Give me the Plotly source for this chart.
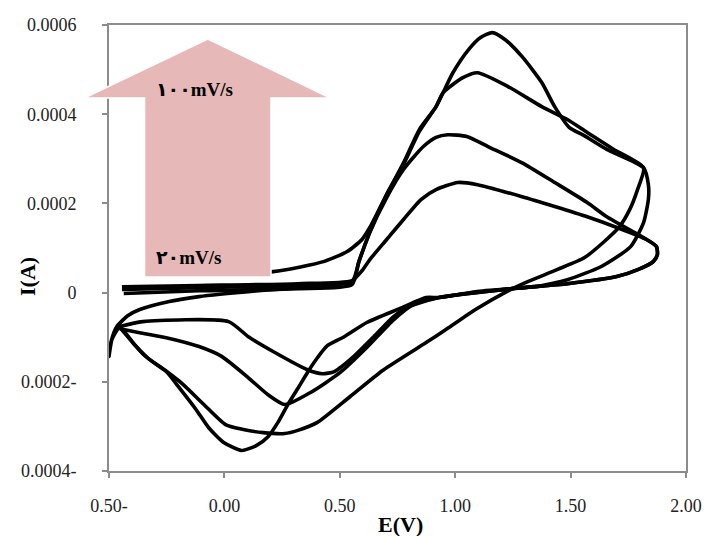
import plotly.graph_objects as go

# ---- data (E in V, I in A) ----
E_20 = [-0.444,-0.110,0.318,0.553,0.596,0.630,0.703,0.776,0.853,0.917,1.011,1.097,1.290,1.431,1.572,1.700,1.829,
        1.872,1.876,1.859,1.794,1.700,1.486,1.247,0.930,0.801,0.733,0.647,0.561,0.476,0.424,0.360,0.211,0.104,0.018,-0.354,-0.453]
I_20 = [1.3e-5,1.6e-5,2.0e-5,2.7e-5,4.9e-5,7.4e-5,1.19e-4,1.64e-4,2.09e-4,2.31e-4,2.47e-4,2.42e-4,2.15e-4,1.93e-4,1.70e-4,1.46e-4,1.19e-4,
        1.03e-4,8.5e-5,7.0e-5,5.2e-5,3.6e-5,2.0e-5,9e-6,-1.1e-5,-3.1e-5,-5.4e-5,-9.9e-5,-1.43e-4,-1.77e-4,-1.82e-4,-1.73e-4,-1.32e-4,-9.9e-5,-6.5e-5,-6.5e-5,-7.6e-5]

E_40 = [-0.444,-0.110,0.318,0.553,0.583,0.630,0.703,0.776,0.861,0.917,0.968,
        1.050,1.144,1.290,1.431,1.572,1.657,1.829,
        1.872,1.876,1.859,1.794,1.700,1.486,1.247,0.930,0.818,
        0.733,0.617,0.502,0.373,0.262,0.189,0.104,-0.012,-0.110,-0.252,-0.367,-0.453]
I_40 = [7e-6,1.1e-5,1.6e-5,2.5e-5,7.0e-5,1.35e-4,2.13e-4,2.76e-4,3.27e-4,3.48e-4,3.54e-4,
        3.50e-4,3.27e-4,2.91e-4,2.47e-4,2.02e-4,1.70e-4,1.19e-4,
        1.03e-4,8.5e-5,7.0e-5,5.2e-5,3.6e-5,2.0e-5,9e-6,-1.1e-5,-2.7e-5,
        -6.1e-5,-1.23e-4,-1.79e-4,-2.24e-4,-2.51e-4,-2.29e-4,-1.91e-4,-1.43e-4,-1.21e-4,-1.01e-4,-9.0e-5,-8.1e-5]

E_60 = [-0.436,-0.110,0.318,0.553,0.583,0.630,0.703,0.776,0.844,0.917,0.947,1.033,1.097,
        1.229,1.375,1.486,1.572,1.687,1.816,
        1.790,1.756,1.709,1.645,1.559,1.444,1.302,1.229,1.088,0.960,0.874,0.690,0.545,0.403,0.318,0.262,0.168,0.082,0.005,-0.089,-0.183,-0.260,-0.346,-0.453]
I_60 = [-2e-6,4e-6,9e-6,1.8e-5,7.0e-5,1.35e-4,2.20e-4,2.87e-4,3.61e-4,4.17e-4,4.48e-4,4.82e-4,4.93e-4,
        4.62e-4,4.17e-4,3.88e-4,3.59e-4,3.21e-4,2.80e-4,
        2.31e-4,1.86e-4,1.46e-4,1.14e-4,7.8e-5,5.2e-5,2.2e-5,4e-6,-3.8e-5,-8.3e-5,-1.12e-4,-1.73e-4,-2.33e-4,-2.91e-4,-3.09e-4,-3.16e-4,-3.14e-4,-3.07e-4,-2.96e-4,-2.51e-4,-2.04e-4,-1.73e-4,-1.41e-4,-7.8e-5]

E_100 = [-0.325,0.211,0.433,0.532,0.596,0.630,0.703,0.776,0.844,0.917,0.990,1.058,1.110,1.161,
         1.217,1.290,1.375,1.431,1.495,1.559,1.657,1.816,
         1.837,1.837,1.816,1.760,1.631,1.486,1.345,1.247,1.088,0.930,0.874,0.759,0.617,0.519,0.446,0.403,0.360,0.318,0.275,0.232,0.189,0.138,0.074,
         -0.003,-0.068,-0.123,-0.196,-0.252,-0.325,-0.389,-0.453,-0.487,-0.500,
         -0.491,-0.466,-0.419,-0.367,-0.239,-0.110,0.146,0.446,0.553]
I_100 = [4.3e-5,4.7e-5,7.0e-5,9.2e-5,1.19e-4,1.46e-4,2.20e-4,2.91e-4,3.65e-4,4.17e-4,4.93e-4,5.45e-4,5.72e-4,5.83e-4,
         5.67e-4,5.29e-4,4.71e-4,4.17e-4,3.70e-4,3.52e-4,3.21e-4,2.80e-4,
         2.42e-4,2.09e-4,1.57e-4,1.03e-4,5.8e-5,2.9e-5,1.3e-5,9e-6,2e-6,-1.1e-5,-1.1e-5,-3.6e-5,-6.7e-5,-9.9e-5,-1.19e-4,-1.46e-4,-1.79e-4,-2.15e-4,-2.51e-4,-2.91e-4,-3.23e-4,-3.43e-4,-3.54e-4,
         -3.36e-4,-3.03e-4,-2.62e-4,-2.13e-4,-1.77e-4,-1.50e-4,-1.17e-4,-7.8e-5,-1.05e-4,-1.43e-4,
         -1.10e-4,-7.6e-5,-5.2e-5,-3.8e-5,-2.0e-5,-9e-6,4e-6,1.6e-5,2.2e-5]

x_tickvals = [-0.5, 0.0, 0.5, 1.0, 1.5, 2.0]
x_ticktext = ["0.50-", "0.00", "0.50", "1.00", "1.50", "2.00"]
y_tickvals = [-0.0004, -0.0002, 0.0, 0.0002, 0.0004, 0.0006]
y_ticktext = ["0.0004-", "0.0002-", "0", "0.0002", "0.0004", "0.0006"]

label_high = "۱۰۰mV/s"
label_low = "۲۰mV/s"

fig = go.Figure()
for ex, iy in [(E_20, I_20), (E_40, I_40), (E_60, I_60), (E_100, I_100)]:
    fig.add_trace(go.Scatter(x=ex, y=iy, mode="lines",
                             line=dict(color="black", width=3.6, shape="spline", smoothing=0.6),
                             showlegend=False, hoverinfo="skip"))

L, R, T, B = 109, 21, 25, 65
W, H = 714, 536
pw, ph = W - L - R, H - T - B
def px(x): return (x - L) / pw
def py(y): return (H - B - y) / ph

arrow = [(209, 39), (333, 98), (273, 98), (273, 277), (145, 277), (145, 98), (84, 98)]
path = "M " + " L ".join(f"{px(a):.4f},{py(b):.4f}" for a, b in arrow) + " Z"
fig.add_shape(type="path", path=path, xref="paper", yref="paper",
              fillcolor="#E6B8B7", line=dict(color="white", width=1.5), layer="above")

fig.add_annotation(x=px(155), y=py(90), xref="paper", yref="paper", text=label_high,
                   showarrow=False, xanchor="left", yanchor="middle",
                   font=dict(family="Liberation Serif, DejaVu Sans", size=19, color="black", weight="bold"))
fig.add_annotation(x=px(155), y=py(257), xref="paper", yref="paper", text=label_low,
                   showarrow=False, xanchor="left", yanchor="middle",
                   font=dict(family="Liberation Serif, DejaVu Sans", size=19, color="black", weight="bold"))
fig.add_annotation(x=px(404), y=py(524), xref="paper", yref="paper", text="E(V)",
                   showarrow=False, xanchor="center", yanchor="middle",
                   font=dict(family="Liberation Serif", size=22, color="black", weight="bold"))
fig.add_annotation(x=px(26), y=py(276), xref="paper", yref="paper", text="I(A)", textangle=-90,
                   showarrow=False, xanchor="center", yanchor="middle",
                   font=dict(family="Liberation Serif", size=22, color="black", weight="bold"))

axis_common = dict(showgrid=False, zeroline=False, showline=True, linecolor="#8c8c8c", linewidth=2,
                   mirror=True, ticks="outside", tickcolor="#8c8c8c", tickwidth=2, ticklen=5,
                   tickfont=dict(family="Liberation Serif", size=18, color="#222"))
fig.update_xaxes(range=[-0.5, 2.0], tickvals=x_tickvals, ticktext=x_ticktext, ticklabelstandoff=12, **axis_common)
fig.update_yaxes(range=[-0.0004, 0.0006], tickvals=y_tickvals, ticktext=y_ticktext, ticklabelstandoff=22, **axis_common)

fig.update_layout(width=W, height=H, margin=dict(l=L, r=R, t=T, b=B),
                  paper_bgcolor="white", plot_bgcolor="white")
fig.write_html("out.html")
